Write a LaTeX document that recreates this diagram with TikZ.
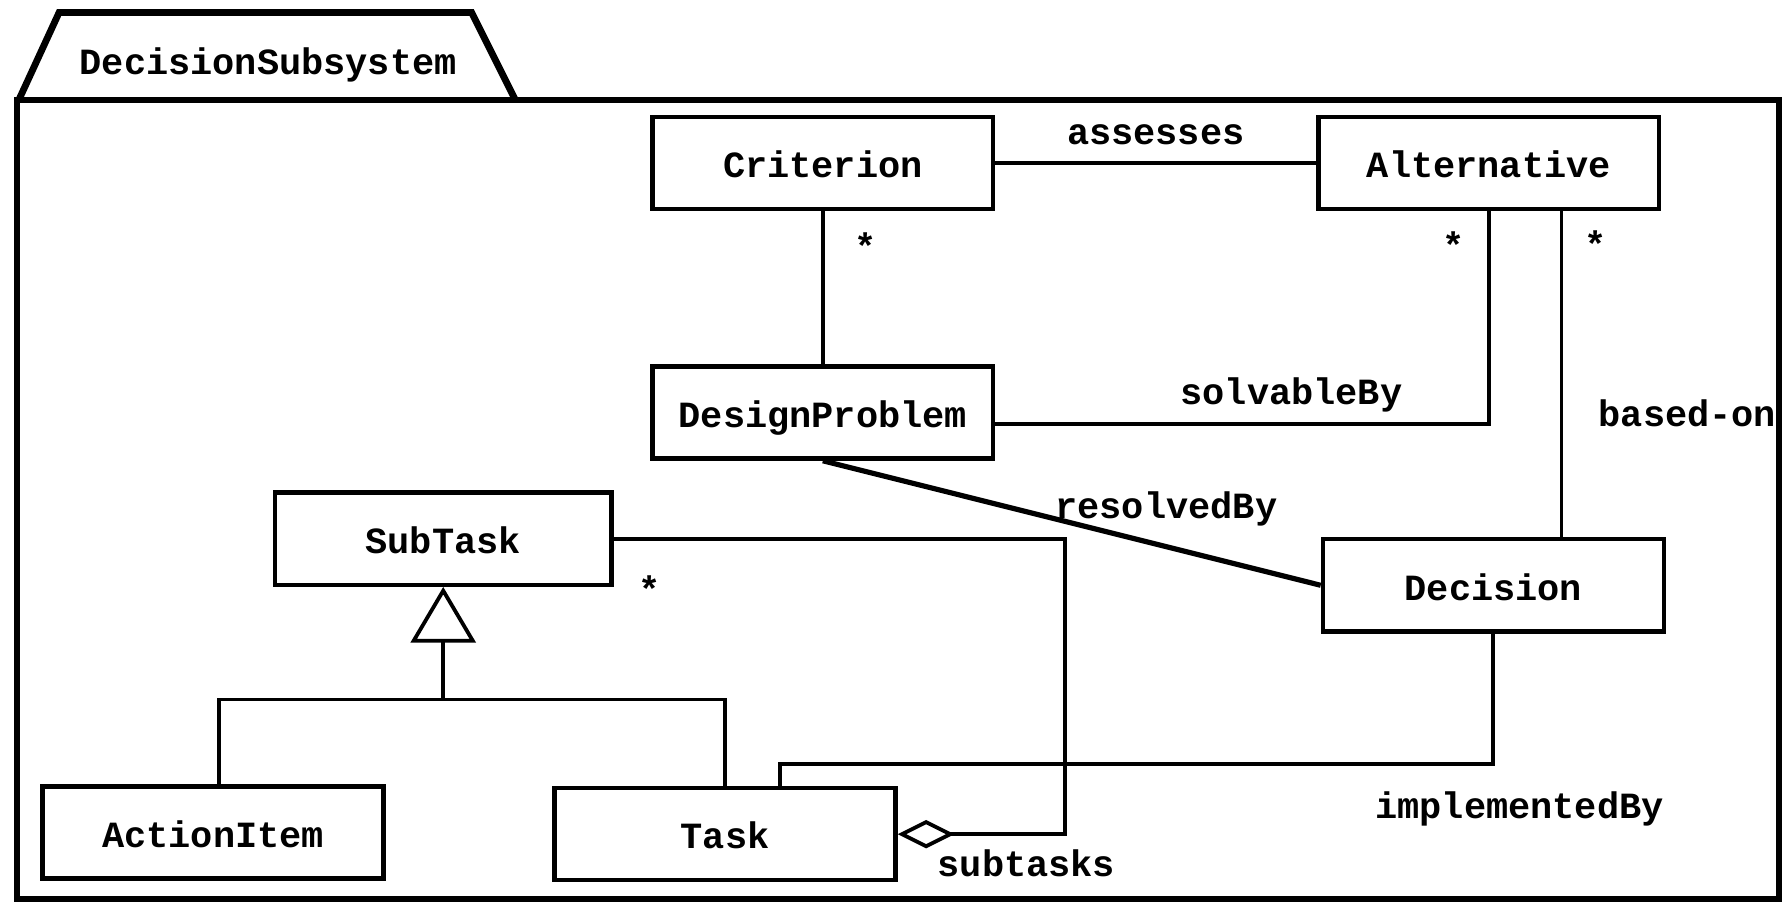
\documentclass[tikz,border=0pt]{standalone}
\usepackage{fontspec}
\setmonofont{Liberation Mono}
\usetikzlibrary{positioning, arrows.meta}

\begin{document}
\begin{tikzpicture}
    [
        node distance=2cm and 2cm, on grid,
        font=\fontsize{18.5}{22}\selectfont\ttfamily\bfseries,
        class_node/.style={rectangle, draw=black, line width=2.2pt, minimum width=6cm, minimum height=1.62cm, inner sep=0pt, text height=0.6cm, text depth=0.08cm},
        assoc_label/.style={inner sep=0pt},
        mult_label/.style={inner sep=0pt},
        assoc_line/.style={line width=1.9pt, color=black},
    ]
        \useasboundingbox (0,0) rectangle (31.36,-15.86);
        % package frame with tab
        \draw[line width=3.4pt] (0.34,-1.74) -- (1.04,-0.22) -- (8.30,-0.22) -- (9.06,-1.74);
        \draw[line width=3.4pt] (0.30,-1.76) rectangle (31.32,-15.82);
        \node (pkg) at (4.72,-1.14) {DecisionSubsystem};
        % classes
        \node[class_node] (crit) at (14.48,-2.87) {Criterion};
        \node[class_node] (alt) [right = 11.72cm of crit] {Alternative};
        \node[class_node] (dp) [below = 4.39cm of crit] {DesignProblem};
        \node[class_node] (dec) [below right = 3.04cm and 11.8cm of dp] {Decision};
        \node[class_node, minimum width=5.92cm] (sub) [below left = 2.22cm and 6.68cm of dp] {SubTask};
        \node[class_node] (act) [below left = 5.17cm and 4.05cm of sub] {ActionItem};
        \node[class_node] (task) [below right = 5.2cm and 4.96cm of sub] {Task};
        % associations
        \draw[assoc_line] (crit) -- node[assoc_label, above=0.28cm] {assesses} (alt);
        \draw[assoc_line] (crit) -- node[mult_label, pos=0.23, right=0.52cm] {*} (dp);
        \draw[assoc_line] ([yshift=-0.2cm]dp.east) -| node[assoc_label, pos=0.3, above=0.17cm] {solvableBy}
            node[mult_label, pos=0.92, left=0.4cm] {*} (alt.south);
        \draw[assoc_line] ([xshift=1.28cm]alt.south) -- node[mult_label, pos=0.1, right=0.37cm] {*}
            node[assoc_label, pos=0.62, right=0.62cm] {based-on} ([xshift=1.28cm]alt.south |- dec.north);
        \draw[assoc_line, line width=2.6pt] (dp.south) -- node[assoc_label, pos=0.69, yshift=0.66cm] {resolvedBy} (dec.west);
        \draw[assoc_line, {Diamond[open, length=1cm, width=0.5cm]}-] (task.east)
            -- node[assoc_label, pos=0.77, below=0.24cm] {subtasks} ++(2.94cm,0)
            |- node[mult_label, at end, xshift=0.64cm, yshift=-0.89cm] {*} (sub.east);
        \draw[assoc_line] (dec.south) -- ++(0,-2.3cm) node[assoc_label, below=0.45cm, xshift=0.46cm] {implementedBy}
            -| ([xshift=0.96cm]task.north);
        % generalization
        \draw[assoc_line, {Triangle[open, length=0.98cm, width=1.14cm]}-] (sub.south) -- ++(0,-1.98cm) coordinate (gen);
        \draw[assoc_line] ([xshift=0.11cm]act.north) |- (gen) -| (task.north);
    \end{tikzpicture}
\end{document}
